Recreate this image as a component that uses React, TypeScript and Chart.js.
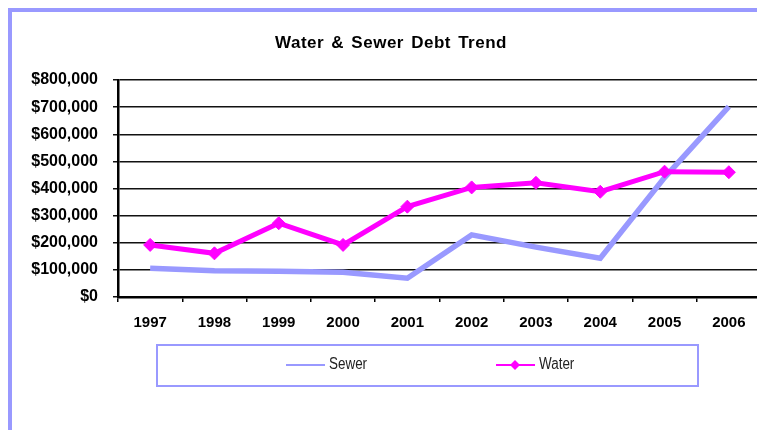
import React, { useEffect, useRef } from "react";
import { Chart, registerables } from "chart.js";

Chart.register(...registerables);

// Fiscal years on the category axis
const years = ["1997", "1998", "1999", "2000", "2001", "2002", "2003", "2004", "2005", "2006"];

// Outstanding debt per year, in dollars
const sewerDebt = [106000, 97000, 95000, 91000, 69000, 229000, 184000, 143000, 440000, 702000];
const waterDebt = [192000, 161000, 272000, 192000, 333000, 404000, 421000, 388000, 462000, 460000];

// Value axis ticks
const yTickValues = [0, 100000, 200000, 300000, 400000, 500000, 600000, 700000, 800000];

const chartTitle = "Water & Sewer Debt Trend";
const sewerLabel = "Sewer";
const waterLabel = "Water";

const SEWER_COLOR = "#9999FF";
const WATER_COLOR = "#FF00FF";
const FONT = "'Liberation Sans', Arial, Helvetica, sans-serif";

const money = (v: number) => "$" + Math.round(v).toLocaleString("en-US");

// Legend labels use a condensed rendering of the regular face
function drawNarrowText(ctx: CanvasRenderingContext2D, text: string, x: number, y: number) {
  ctx.save();
  ctx.translate(x, y);
  ctx.scale(0.84, 1);
  ctx.fillText(text, 0, 0);
  ctx.restore();
}

// Draws the chart heading and the boxed legend (line samples with markers)
const headingAndLegend = {
  id: "headingAndLegend",
  afterDraw(chart: any) {
    const ctx: CanvasRenderingContext2D = chart.ctx;
    ctx.save();

    // heading
    ctx.font = `bold 17px ${FONT}`;
    ctx.fillStyle = "#000";
    ctx.textAlign = "center";
    ctx.textBaseline = "alphabetic";
    (ctx as any).letterSpacing = "0.5px";
    (ctx as any).wordSpacing = "2px";
    ctx.fillText(chartTitle, 391, 48);
    (ctx as any).letterSpacing = "0px";
    (ctx as any).wordSpacing = "0px";

    // legend frame
    ctx.strokeStyle = SEWER_COLOR;
    ctx.lineWidth = 2;
    ctx.strokeRect(157, 345, 541, 41);

    const sewerSet = chart.data.datasets.find((d: any) => d.label === sewerLabel);
    const waterSet = chart.data.datasets.find((d: any) => d.label === waterLabel);
    const midY = 365;

    ctx.font = `16px ${FONT}`;
    ctx.textAlign = "left";
    ctx.textBaseline = "middle";

    // sewer entry
    ctx.strokeStyle = sewerSet.borderColor;
    ctx.lineWidth = 2;
    ctx.beginPath();
    ctx.moveTo(286, midY);
    ctx.lineTo(325, midY);
    ctx.stroke();
    ctx.fillStyle = "#222";
    drawNarrowText(ctx, sewerSet.label, 329, midY);

    // water entry
    ctx.strokeStyle = waterSet.borderColor;
    ctx.beginPath();
    ctx.moveTo(496, midY);
    ctx.lineTo(535, midY);
    ctx.stroke();
    ctx.fillStyle = waterSet.pointBackgroundColor;
    ctx.beginPath();
    ctx.moveTo(515, midY - 5);
    ctx.lineTo(520, midY);
    ctx.lineTo(515, midY + 5);
    ctx.lineTo(510, midY);
    ctx.closePath();
    ctx.fill();
    ctx.fillStyle = "#222";
    drawNarrowText(ctx, waterSet.label, 539, midY);

    ctx.restore();
  },
};

export default function App() {
  const canvasRef = useRef<HTMLCanvasElement | null>(null);

  useEffect(() => {
    if (!canvasRef.current) return;
    const chart = new Chart(canvasRef.current, {
      type: "line",
      data: {
        labels: years,
        datasets: [
          {
            label: waterLabel,
            data: waterDebt,
            borderColor: WATER_COLOR,
            backgroundColor: WATER_COLOR,
            borderWidth: 5,
            pointStyle: "rectRot",
            pointRadius: 6.5,
            pointBackgroundColor: WATER_COLOR,
            pointBorderColor: WATER_COLOR,
            pointBorderWidth: 1,
            tension: 0,
            order: 0,
          },
          {
            label: sewerLabel,
            data: sewerDebt,
            borderColor: SEWER_COLOR,
            backgroundColor: SEWER_COLOR,
            borderWidth: 5.5,
            pointRadius: 0,
            tension: 0,
            order: 1,
          },
        ],
      },
      options: {
        responsive: false,
        animation: false,
        devicePixelRatio: 1,
        layout: { padding: { left: 21, right: 19, top: 80, bottom: 0 } },
        plugins: {
          legend: { display: false },
          title: { display: false },
          tooltip: { enabled: false },
        },
        scales: {
          x: {
            type: "category",
            offset: true,
            grid: {
              offset: true,
              drawOnChartArea: false,
              drawTicks: true,
              tickLength: 5,
              color: "#000",
              lineWidth: 1.5,
            },
            border: { display: true, color: "#000", width: 2.5 },
            ticks: {
              font: { family: FONT, size: 15, weight: "bold" },
              color: "#000",
              padding: 12,
              maxRotation: 0,
              autoSkip: false,
            },
            afterFit: (s: any) => {
              s.height = 133;
            },
          },
          y: {
            min: 0,
            max: 800000,
            afterBuildTicks: (s: any) => {
              s.ticks = yTickValues.map((v) => ({ value: v }));
            },
            ticks: {
              callback: (v: any) => money(Number(v)),
              font: { family: FONT, size: 16, weight: "bold" },
              color: "#000",
              padding: 15,
            },
            grid: { color: "#111", lineWidth: 1.5, tickLength: 5 },
            border: { display: true, color: "#000", width: 2.5 },
            afterFit: (s: any) => {
              s.width = 97;
            },
          },
        },
      },
      plugins: [headingAndLegend],
    });
    return () => chart.destroy();
  }, []);

  return (
    <div
      style={{
        position: "fixed",
        left: 0,
        top: 0,
        width: 757,
        height: 430,
        overflow: "hidden",
        background: "#fff",
      }}
    >
      <div
        style={{
          position: "absolute",
          left: 8,
          top: 8,
          width: 800,
          height: 480,
          border: `4px solid ${SEWER_COLOR}`,
          boxSizing: "border-box",
        }}
      />
      <canvas
        ref={canvasRef}
        width={780}
        height={430}
        style={{ position: "absolute", left: 0, top: 0 }}
      />
    </div>
  );
}
